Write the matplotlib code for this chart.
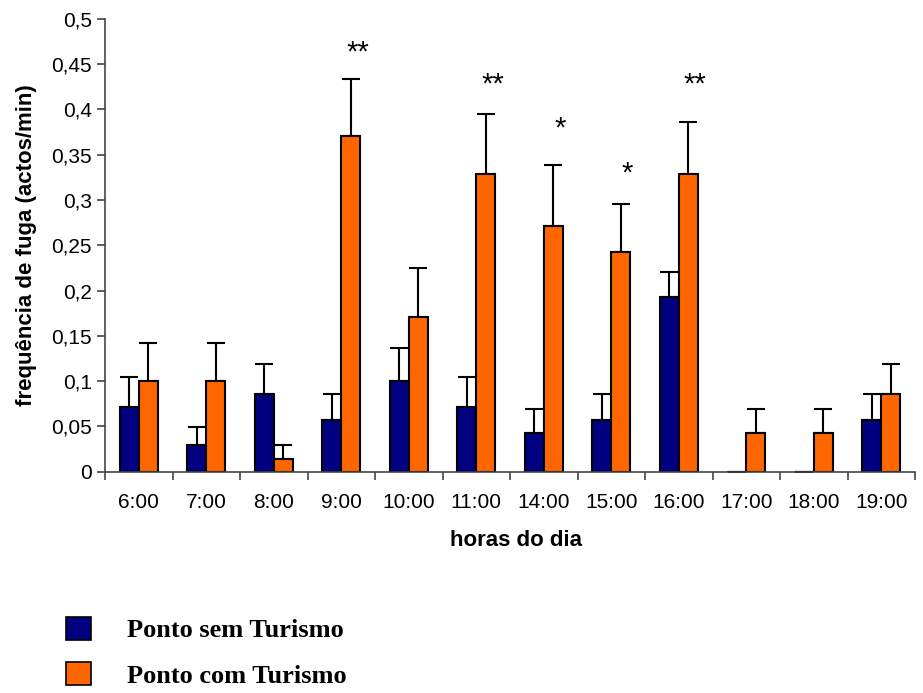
import numpy as np
import matplotlib.pyplot as plt
from matplotlib.patches import Patch

horas = ["6:00", "7:00", "8:00", "9:00", "10:00", "11:00",
         "14:00", "15:00", "16:00", "17:00", "18:00", "19:00"]

sem_turismo = [0.071, 0.029, 0.086, 0.057, 0.100, 0.071, 0.043, 0.057, 0.193, 0.0, 0.0, 0.057]
sem_erro = [0.033, 0.020, 0.033, 0.029, 0.037, 0.033, 0.026, 0.029, 0.027, 0.0, 0.0, 0.029]

com_turismo = [0.100, 0.100, 0.014, 0.371, 0.171, 0.329, 0.271, 0.243, 0.329, 0.043, 0.043, 0.086]
com_erro = [0.042, 0.042, 0.015, 0.063, 0.054, 0.066, 0.068, 0.053, 0.057, 0.026, 0.026, 0.033]

# asteriscos de significancia (indice da hora, altura, texto)
sig_idx = [3, 5, 6, 7, 8]
sig_y = [0.463, 0.427, 0.379, 0.329, 0.427]
sig_txt = ["**", "**", "*", "*", "**"]

azul = "#000080"
laranja = "#FF6600"

plt.rcParams["font.family"] = ["Liberation Sans", "DejaVu Sans"]

fig = plt.figure(figsize=(9.23, 6.93), dpi=100)
a = fig.add_axes([0.1138, 0.3193, 0.8776, 0.6537])

x = np.arange(len(horas))
w = 0.28
z = np.zeros(len(horas))

a.bar(x - w/2, sem_turismo, w, color=azul, edgecolor="black", linewidth=1.5, zorder=2)
a.bar(x + w/2, com_turismo, w, color=laranja, edgecolor="black", linewidth=1.5, zorder=2)

a.errorbar(x - w/2, sem_turismo, yerr=[z, sem_erro], fmt="none", ecolor="black",
           elinewidth=1.5, capsize=6.5, capthick=1.5, zorder=1)
a.errorbar(x + w/2, com_turismo, yerr=[z, com_erro], fmt="none", ecolor="black",
           elinewidth=1.5, capsize=6.5, capthick=1.5, zorder=1)

for i, yy, t in zip(sig_idx, sig_y, sig_txt):
    a.text(i + w/2 + 0.1, yy, t, ha="center", va="center", fontsize=21)

a.set_xlim(-0.5, len(horas) - 0.5)
a.set_ylim(0, 0.5)

a.set_yticks(np.arange(0, 0.51, 0.05))
a.set_yticklabels(["0"] + ["{:g}".format(v).replace(".", ",") for v in np.arange(0.05, 0.51, 0.05)])

a.set_xticks(x)
a.set_xticklabels(horas)
a.set_xticks(np.arange(-0.5, len(horas)), minor=True)
a.tick_params(axis="x", which="major", length=0, pad=15, labelsize=15)
a.tick_params(axis="x", which="minor", length=6, width=1.2, direction="out", color="#444444")
a.tick_params(axis="y", length=6, width=1.2, direction="out", labelsize=15, color="#444444")

for s in ["top", "right"]:
    a.spines[s].set_visible(False)
a.spines["left"].set_color("#444444")
a.spines["bottom"].set_color("#444444")
a.spines["left"].set_linewidth(1.2)
a.spines["bottom"].set_linewidth(1.2)

a.set_ylabel("frequência de fuga (actos/min)", fontsize=16, fontweight="bold", labelpad=10)
a.set_xlabel("horas do dia", fontsize=16, fontweight="bold")
a.xaxis.set_label_coords(0.507, -0.128)

handles = [Patch(facecolor=azul, edgecolor="black", linewidth=1.2, label="Ponto sem Turismo"),
           Patch(facecolor=laranja, edgecolor="black", linewidth=1.2, label="Ponto com Turismo")]
fig.legend(handles=handles, loc="upper left", bbox_to_anchor=(66/923, 1 - 617/693),
           frameon=False, borderpad=0, borderaxespad=0, handlelength=0.95, handleheight=0.95,
           handletextpad=1.35, labelspacing=0.75,
           prop={"family": "Liberation Serif", "weight": "bold", "size": 19})

plt.savefig("out.png", dpi=100)
